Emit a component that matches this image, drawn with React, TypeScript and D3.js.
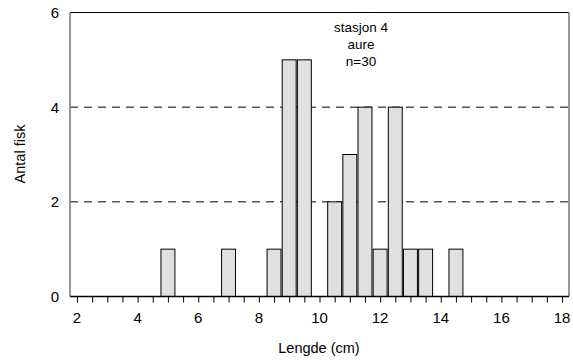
import React, { useEffect, useRef } from 'react';
import * as d3 from 'd3';

// length classes (cm) and fish counts
const lengths = [5, 7, 8.5, 9, 9.5, 10.5, 11, 11.5, 12, 12.5, 13, 13.5, 14.5];
const counts = [1, 1, 1, 5, 5, 2, 3, 4, 1, 4, 1, 1, 1];
const xTickLabels = [2, 4, 6, 8, 10, 12, 14, 16, 18];
const yTickLabels = [0, 2, 4, 6];
const gridValues = [2, 4];
const noteLines = ['stasjon 4', 'aure', 'n=30'];

const App = () => {
  const svgRef = useRef<SVGSVGElement>(null);

  useEffect(() => {
    const W = 573, H = 362;
    const left = 70, right = 569, top = 12.5, bottom = 296.5;
    const font = 'Liberation Sans, Arial, sans-serif';

    const svg = d3.select(svgRef.current).attr('width', W).attr('height', H);
    svg.selectAll('*').remove();

    const x = d3.scaleLinear().domain([1.77, 18.23]).range([left, right]);
    const y = d3.scaleLinear().domain([0, 6]).range([bottom, top]);

    // dashed grid lines
    svg.selectAll('line.grid')
      .data(gridValues)
      .enter()
      .append('line')
      .attr('x1', left).attr('x2', right)
      .attr('y1', d => y(d)).attr('y2', d => y(d))
      .attr('stroke', '#000')
      .attr('stroke-width', 1)
      .attr('stroke-dasharray', '8,6');

    // bars
    const bw = x(2.46) - x(2);
    svg.selectAll('rect.bar')
      .data(lengths)
      .enter()
      .append('rect')
      .attr('x', d => x(d) - bw / 2)
      .attr('y', (d, i) => y(counts[i]))
      .attr('width', bw)
      .attr('height', (d, i) => y(0) - y(counts[i]))
      .attr('fill', '#e0e0e0')
      .attr('stroke', '#000')
      .attr('stroke-width', 1);

    // frame
    svg.append('line').attr('x1', left).attr('x2', right).attr('y1', top).attr('y2', top)
      .attr('stroke', '#000').attr('stroke-width', 1.2);
    svg.append('line').attr('x1', left).attr('x2', left).attr('y1', top).attr('y2', bottom)
      .attr('stroke', '#777').attr('stroke-width', 1.5);
    svg.append('line').attr('x1', right).attr('x2', right).attr('y1', top).attr('y2', bottom)
      .attr('stroke', '#777').attr('stroke-width', 1.5);

    // x axis
    const xAxis = svg.append('g')
      .attr('transform', `translate(0,${bottom})`)
      .call(d3.axisBottom(x).tickValues(d3.range(2, 18.01, 0.5)).tickSize(6).tickFormat(() => ''));
    xAxis.select('.domain').attr('d', `M${left},0H${right}`).attr('stroke', '#000').attr('stroke-width', 1.5);
    xAxis.selectAll('.tick line').attr('stroke', '#000');

    svg.selectAll('text.xlab')
      .data(xTickLabels)
      .enter()
      .append('text')
      .attr('x', d => x(d))
      .attr('y', 323)
      .attr('text-anchor', 'middle')
      .style('font-family', font)
      .style('font-size', '15px')
      .text(d => d);

    svg.selectAll('text.ylab')
      .data(yTickLabels)
      .enter()
      .append('text')
      .attr('x', 59)
      .attr('y', d => y(d) + 5.5)
      .attr('text-anchor', 'end')
      .style('font-family', font)
      .style('font-size', '15px')
      .text(d => d);

    // axis titles
    svg.append('text')
      .attr('x', 319)
      .attr('y', 353)
      .attr('text-anchor', 'middle')
      .style('font-family', font)
      .style('font-size', '14.5px')
      .text('Lengde (cm)');

    svg.append('text')
      .attr('transform', `translate(25,154) rotate(-90)`)
      .attr('text-anchor', 'middle')
      .style('font-family', font)
      .style('font-size', '14.5px')
      .text('Antal fisk');

    // station note
    svg.selectAll('text.note')
      .data(noteLines)
      .enter()
      .append('text')
      .attr('x', 361)
      .attr('y', (d, i) => 32 + i * 17)
      .attr('text-anchor', 'middle')
      .style('font-family', font)
      .style('font-size', '13.5px')
      .text(d => d);
  }, []);

  return <svg ref={svgRef} style={{ position: 'absolute', left: 0, top: 0 }}></svg>;
};

export default App;
